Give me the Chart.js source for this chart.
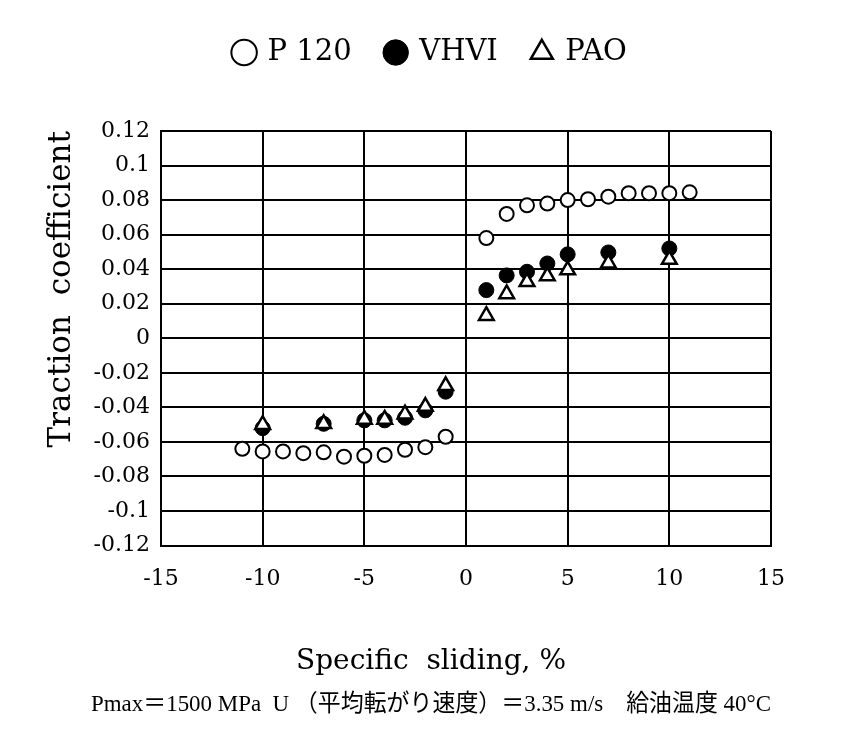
<!DOCTYPE html>
<html>
<head>
<meta charset="utf-8">
<script src="https://cdn.jsdelivr.net/npm/chart.js@4/dist/chart.umd.min.js"></script>
<style>
  html, body { margin: 0; padding: 0; background: #fff; }
  #wrap { width: 862px; height: 733px; }
</style>
</head>
<body>
<div id="wrap"><canvas id="c" width="862" height="733"></canvas></div>
<script>
// ---- data ----
const seriesNames = ['P 120', 'VHVI', 'PAO'];

const p120X = [-11, -10, -9, -8, -7, -6, -5, -4, -3, -2, -1, 1, 2, 3, 4, 5, 6, 7, 8, 9, 10, 11];
const p120Y = [-0.064, -0.0655, -0.0655, -0.0665, -0.066, -0.0685, -0.068, -0.0675, -0.0645, -0.063, -0.057,
               0.058, 0.072, 0.077, 0.078, 0.080, 0.0805, 0.082, 0.084, 0.084, 0.084, 0.0845];

const vhviX = [-10, -7, -5, -4, -3, -2, -1, 1, 2, 3, 4, 5, 7, 10];
const vhviY = [-0.052, -0.0495, -0.0475, -0.0475, -0.046, -0.0417, -0.0309,
               0.0279, 0.0364, 0.0385, 0.0433, 0.0486, 0.0497, 0.052];

const paoX = [-10, -7, -5, -4, -3, -2, -1, 1, 2, 3, 4, 5, 7, 10];
const paoY = [-0.050, -0.0495, -0.047, -0.047, -0.0439, -0.0395, -0.0275,
              0.0131, 0.0257, 0.0327, 0.036, 0.0395, 0.0435, 0.0456];

const xTicks = [-15, -10, -5, 0, 5, 10, 15];
const xTickLabels = ['-15', '-10', '-5', '0', '5', '10', '15'];
const yTicks = [-0.12, -0.1, -0.08, -0.06, -0.04, -0.02, 0, 0.02, 0.04, 0.06, 0.08, 0.1, 0.12];
const yTickLabels = ['-0.12', '-0.1', '-0.08', '-0.06', '-0.04', '-0.02', '0', '0.02', '0.04', '0.06', '0.08', '0.1', '0.12'];

const xAxisTitle = 'Specific  sliding, %';
const yAxisTitle = 'Traction  coefficient';
const caption = 'Pmax＝1500 MPa  U （平均転がり速度）＝3.35 m/s　給油温度 40°C';

// ---- chart ----
const pts = (xs, ys) => xs.map((x, i) => ({ x: x, y: ys[i] }));
const SERIF = "'DejaVu Serif', serif";

const legendHeightPlugin = {
  id: 'legendHeight',
  afterInit(chart) {
    const lg = chart.legend;
    if (!lg) return;
    const orig = lg.fit;
    lg.fit = function () { orig.call(this); this.height = 128; };
  }
};

new Chart(document.getElementById('c'), {
  type: 'scatter',
  data: {
    datasets: [
      { label: seriesNames[0], data: pts(p120X, p120Y), order: 2,
        pointStyle: 'circle', pointRadius: 7, pointBorderWidth: 2,
        backgroundColor: '#fff', borderColor: '#000', borderWidth: 2 },
      { label: seriesNames[1], data: pts(vhviX, vhviY), order: 1,
        pointStyle: 'circle', pointRadius: 7.5, pointBorderWidth: 1,
        backgroundColor: '#000', borderColor: '#000', borderWidth: 1 },
      { label: seriesNames[2], data: pts(paoX, paoY), order: 0,
        pointStyle: 'triangle', pointRadius: 8.5, pointBorderWidth: 2.5,
        backgroundColor: '#fff', borderColor: '#000', borderWidth: 2 }
    ]
  },
  options: {
    responsive: false,
    animation: false,
    layout: { padding: { left: 91, right: 91, top: 3, bottom: 0 } },
    scales: {
      x: {
        type: 'linear', min: -15, max: 15,
        afterBuildTicks: s => { s.ticks = xTicks.map(v => ({ value: v })); },
        afterFit: s => { s.height = 99; },
        ticks: { color: '#000', padding: 20, font: { family: SERIF, size: 22 },
                 callback: (v, i) => xTickLabels[i] },
        grid: { color: '#000', lineWidth: 2, drawTicks: false },
        border: { color: '#000', width: 2 },
        title: { display: false }
      },
      y: {
        type: 'linear', min: -0.12, max: 0.12,
        afterBuildTicks: s => { s.ticks = yTicks.map(v => ({ value: v })); },
        afterFit: s => { s.width = 70; },
        ticks: { color: '#000', padding: 11, font: { family: SERIF, size: 22 },
                 callback: (v, i) => yTickLabels[i] },
        grid: { color: '#000', lineWidth: 2, drawTicks: false },
        border: { color: '#000', width: 2 },
        title: { display: true, text: yAxisTitle, color: '#000', align: 'end',
                 font: { family: SERIF, size: 31, weight: 'normal' },
                 padding: { top: -48, bottom: 0 } }
      }
    },
    plugins: {
      legend: {
        position: 'top',
        labels: {
          usePointStyle: true, boxWidth: 18, boxHeight: 18, padding: 35,
          color: '#000', font: { family: SERIF, size: 29 },
          sort: (a, b) => a.datasetIndex - b.datasetIndex
        }
      },
      subtitle: {
        display: true, position: 'bottom', text: xAxisTitle, color: '#000',
        font: { family: SERIF, size: 28, weight: 'normal' },
        padding: { top: 0, bottom: 12 }
      },
      title: {
        display: true, position: 'bottom', text: caption, color: '#000',
        font: { family: "'Liberation Serif', 'Noto Sans CJK JP', serif", size: 24, weight: 'normal' },
        padding: { top: 0, bottom: 14 }
      },
      tooltip: { enabled: false }
    }
  },
  plugins: [legendHeightPlugin]
});
</script>
</body>
</html>
